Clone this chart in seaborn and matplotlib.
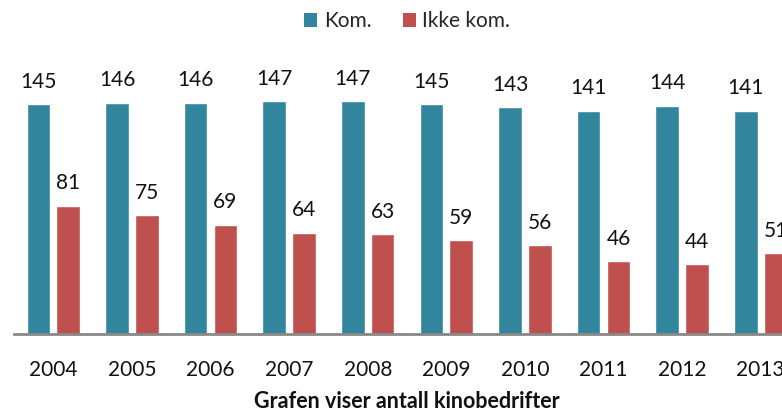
# Import libraries
import pandas as pd
import matplotlib.pyplot as plt
import seaborn as sns
from matplotlib.patches import Patch

# Data
years = ['2004', '2005', '2006', '2007', '2008', '2009', '2010', '2011', '2012', '2013']
kom = [145, 146, 146, 147, 147, 145, 143, 141, 144, 141]
ikke_kom = [81, 75, 69, 64, 63, 59, 56, 46, 44, 51]
series_names = ['Kom.', 'Ikke kom.']
colors = ['#31859C', '#C0504D']

# Long format table for seaborn
data = pd.DataFrame({
    'År': years * 2,
    'Antall': kom + ikke_kom,
    'Type': [series_names[0]] * len(years) + [series_names[1]] * len(years),
})

sns.set_style('white')
plt.rcParams['font.family'] = ['Lato', 'DejaVu Sans']

fig = plt.figure(figsize=(7.82, 4.13), dpi=100)
# axes runs past the right edge, like the original (cut off at 2013)
ax = fig.add_axes([14 / 782, 79 / 413, 786 / 782, 294 / 413])

sns.barplot(
    data=data, x='År', y='Antall', hue='Type',
    palette=colors, width=0.76, gap=0.21,
    saturation=1, legend=False, ax=ax,
)

for container in ax.containers:
    ax.bar_label(container, padding=9, fontsize=15, color='#111111')

ax.set_ylim(0, 185.5)
ax.set_xlim(-0.5, 9.5)
ax.set_yticks([])
ax.set_ylabel('')
ax.set_xlabel('Grafen viser antall kinobedrifter', fontsize=15.5,
              fontweight='bold', labelpad=8.5, color='#111111')
ax.tick_params(axis='x', length=0, pad=18.5, labelsize=15, labelcolor='#111111')

for side in ['top', 'left', 'right']:
    ax.spines[side].set_visible(False)
ax.spines['bottom'].set_color('#888888')
ax.spines['bottom'].set_linewidth(2)

# Legend on top
handles = [Patch(facecolor=c, edgecolor='none') for c in colors]
ax.legend(handles, series_names, loc='center', bbox_to_anchor=(0.5, 1.0 + 19 / 294),
          ncol=2, frameon=False, fontsize=15, handlelength=0.65, handleheight=0.65,
          handletextpad=0.3, columnspacing=1.5, borderpad=0)

fig.savefig('out.png', dpi=100)
